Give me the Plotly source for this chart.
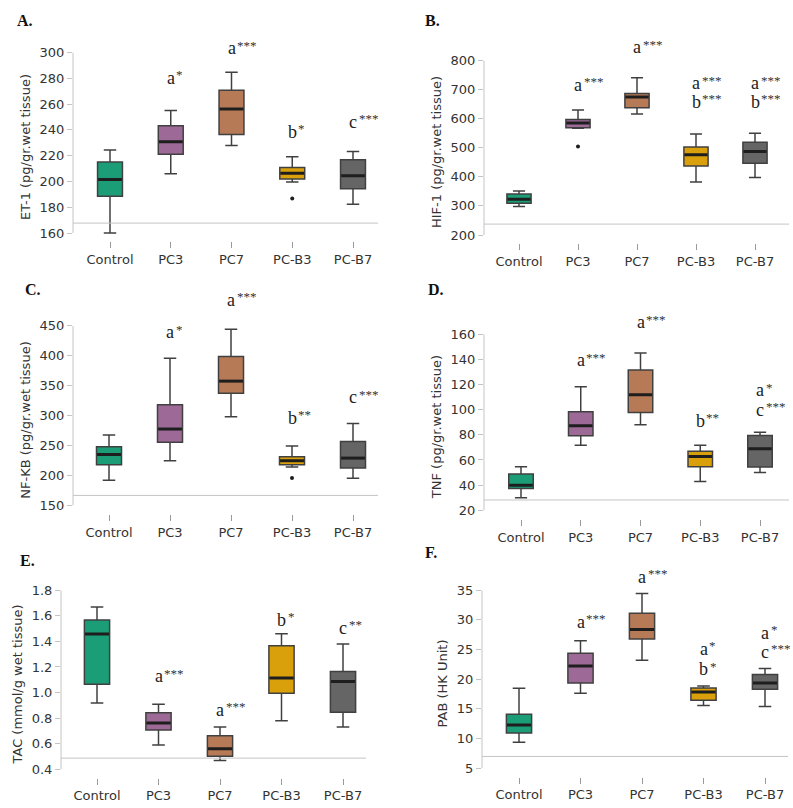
import plotly.graph_objects as go

W, H = 793, 808

groups = ["Control", "PC3", "PC7", "PC-B3", "PC-B7"]
fill_colors = ["#1b9e77", "#9d6a97", "#b77a56", "#d9a00b", "#656565"]

# ---------------- data ----------------
# A. ET-1
et1_lower = [160.0, 206.0, 228.0, 199.5, 182.3]
et1_q1 = [188.5, 221.1, 236.5, 202.0, 194.4]
et1_med = [201.6, 230.9, 256.3, 206.4, 204.4]
et1_q3 = [215.2, 243.2, 270.7, 210.8, 216.9]
et1_upper = [224.5, 255.0, 284.8, 219.2, 223.3]
et1_out = [[], [], [], [186.7], []]

# B. HIF-1
hif_lower = [298, 567, 616, 382, 398]
hif_q1 = [309, 569, 638, 437, 447]
hif_med = [323, 585, 675, 476, 487]
hif_q3 = [341, 597, 687, 503, 519]
hif_upper = [351, 630, 741, 547, 550]
hif_out = [[], [504], [], [], []]

# C. NF-KB
nfkb_lower = [192, 224.6, 298, 214, 195.3]
nfkb_q1 = [218, 255.5, 337.3, 218, 212.4]
nfkb_med = [235, 277.6, 357.7, 224.6, 229]
nfkb_q3 = [247.8, 318, 399, 231.2, 256.6]
nfkb_upper = [267.7, 395.9, 444.5, 249.4, 287]
nfkb_out = [[], [], [], [195.9], []]

# D. TNF
tnf_lower = [30, 71.7, 88, 42.9, 50]
tnf_q1 = [37.3, 79.3, 97.8, 54.7, 54.4]
tnf_med = [40, 87.2, 111.9, 62.8, 68.9]
tnf_q3 = [48.9, 98.3, 131.6, 67, 79.4]
tnf_upper = [54.7, 118.2, 145, 71.7, 82]
tnf_out = [[], [], [], [], []]

# E. TAC
tac_lower = [0.919, 0.591, 0.470, 0.780, 0.731]
tac_q1 = [1.064, 0.707, 0.503, 0.994, 0.847]
tac_med = [1.457, 0.762, 0.560, 1.113, 1.087]
tac_q3 = [1.568, 0.842, 0.663, 1.366, 1.165]
tac_upper = [1.668, 0.909, 0.731, 1.459, 1.379]
tac_out = [[], [], [], [], []]

# F. PAB
pab_lower = [9.35, 17.6, 23.18, 15.54, 15.4]
pab_q1 = [10.9, 19.33, 26.75, 16.43, 18.3]
pab_med = [12.25, 22.23, 28.37, 17.83, 19.34]
pab_q3 = [14.09, 24.35, 31.1, 18.5, 20.8]
pab_upper = [18.44, 26.47, 34.45, 18.83, 21.8]
pab_out = [[], [], [], [], []]

# significance labels: (group index, letter, stars, y in data units)
et1_sig = [(1, "a", "*", 279), (2, "a", "***", 302), (3, "b", "*", 237), (4, "c", "***", 244.6)]
hif_sig = [(1, "a", "***", 710), (2, "a", "***", 839), (3, "a", "***", 715), (3, "b", "***", 652),
           (4, "a", "***", 715), (4, "b", "***", 652)]
nfkb_sig = [(1, "a", "*", 436), (2, "a", "***", 490), (3, "b", "**", 293), (4, "c", "***", 327)]
tnf_sig = [(1, "a", "***", 137.7), (2, "a", "***", 168), (3, "b", "**", 89.4), (4, "a", "*", 114),
           (4, "c", "***", 98.3)]
tac_sig = [(1, "a", "***", 1.111), (2, "a", "***", 0.852), (3, "b", "*", 1.555), (4, "c", "**", 1.49)]
pab_sig = [(1, "a", "***", 29.3), (2, "a", "***", 36.95), (3, "a", "*", 24.8), (3, "b", "*", 21.3),
           (4, "a", "*", 27.5), (4, "c", "***", 24.3)]

# ---------------- panel layout (pixel geometry) ----------------
panels = [
    dict(letter="A.", title="ET-1 (pg/gr.wet tissue)", lo=160, hi=300, dtick=20, fmt="",
         data=(et1_lower, et1_q1, et1_med, et1_q3, et1_upper, et1_out), sig=et1_sig, base=167.7,
         xL=73, xR=378, c0=110, c4=353, lo_px=228, hi_px=46, bot_px=236.5, lab=(15, 14)),
    dict(letter="B.", title="HIF-1 (pg/gr.wet tissue)", lo=200, hi=800, dtick=100, fmt="",
         data=(hif_lower, hif_q1, hif_med, hif_q3, hif_upper, hif_out), sig=hif_sig, base=237.5,
         xL=484, xR=789, c0=519, c4=755, lo_px=230, hi_px=54, bot_px=238.5, lab=(423, 14)),
    dict(letter="C.", title="NF-KB (pg/gr.wet tissue)", lo=150, hi=450, dtick=50, fmt="",
         data=(nfkb_lower, nfkb_q1, nfkb_med, nfkb_q3, nfkb_upper, nfkb_out), sig=nfkb_sig, base=166.6,
         xL=73, xR=378, c0=109, c4=353, lo_px=502.7, hi_px=321.7, bot_px=511.5, lab=(23, 285)),
    dict(letter="D.", title="TNF (pg/gr.wet tissue)", lo=20, hi=160, dtick=20, fmt="",
         data=(tnf_lower, tnf_q1, tnf_med, tnf_q3, tnf_upper, tnf_out), sig=tnf_sig, base=28.2,
         xL=484, xR=789, c0=521, c4=760, lo_px=507.7, hi_px=330, bot_px=516.5, lab=(426, 285)),
    dict(letter="E.", title="TAC (mmol/g wet tissue)", lo=0.4, hi=1.8, dtick=0.2, fmt=".1f",
         data=(tac_lower, tac_q1, tac_med, tac_q3, tac_upper, tac_out), sig=tac_sig, base=0.4876,
         xL=61, xR=366, c0=97, c4=343, lo_px=769, hi_px=588.3, bot_px=777.5, lab=(18, 558)),
    dict(letter="F.", title="PAB (HK Unit)", lo=5, hi=35, dtick=5, fmt="",
         data=(pab_lower, pab_q1, pab_med, pab_q3, pab_upper, pab_out), sig=pab_sig, base=6.96,
         xL=482, xR=788, c0=519, c4=765, lo_px=767.7, hi_px=588.3, bot_px=776.5, lab=(423, 550)),
]

BOX_W = 0.41
LINE_C = "#404040"
AXIS_C = "#c4c4c4"
TICK_FONT = dict(family="DejaVu Sans", size=13, color="#333333")
LETTER_FONT = dict(family="Liberation Serif", size=18, color="#222222")
STAR_FONT = dict(family="Liberation Serif", size=13, color="#333333")
LETTER_W = {"a": 8.0, "b": 9.0, "c": 8.0}

fig = go.Figure()
layout = dict(width=W, height=H, margin=dict(l=0, r=0, t=0, b=0),
              paper_bgcolor="white", plot_bgcolor="white", showlegend=False)
shapes, annotations = [], []

for k, p in enumerate(panels):
    n = "" if k == 0 else str(k + 1)
    xa, ya = "x" + n, "y" + n
    xkey, ykey = "xaxis" + n, "yaxis" + n
    sp = (p["c4"] - p["c0"]) / 4.0
    xr = [-(p["c0"] - p["xL"]) / sp, 4 + (p["xR"] - p["c4"]) / sp]
    per_px = (p["hi"] - p["lo"]) / (p["lo_px"] - p["hi_px"])
    yr = [p["lo"] - (p["bot_px"] - p["lo_px"]) * per_px, p["hi"]]
    layout[xkey] = dict(domain=[p["xL"] / W, p["xR"] / W], range=xr, anchor=ya,
                        tickmode="array", tickvals=list(range(5)), ticktext=groups,
                        ticks="outside", ticklen=6, tickwidth=1, tickcolor="#9a9a9a",
                        showline=False, showgrid=False, zeroline=False, tickfont=TICK_FONT)
    layout[ykey] = dict(domain=[1 - p["bot_px"] / H, 1 - p["hi_px"] / H], range=yr, anchor=xa,
                        tickmode="linear", tick0=p["lo"], dtick=p["dtick"], tickformat=p["fmt"],
                        ticks="outside", ticklen=5, tickwidth=1, tickcolor=AXIS_C,
                        showline=False, showgrid=False, zeroline=False, tickfont=TICK_FONT,
                        title=dict(text=p["title"], font=dict(family="DejaVu Sans", size=13, color="#333333"),
                                   standoff=6))
    # y axis line (only over the tick range) and the grey baseline
    shapes.append(dict(type="line", xref=xa + " domain", yref=ya, x0=0, x1=0, y0=p["lo"], y1=p["hi"],
                       line=dict(color=AXIS_C, width=1)))
    shapes.append(dict(type="line", xref=xa + " domain", yref=ya, x0=0, x1=1, y0=p["base"], y1=p["base"],
                       line=dict(color=AXIS_C, width=1)))

    lower, q1, med, q3, upper, outs = p["data"]
    for i in range(5):
        fig.add_trace(go.Box(x=[i], q1=[q1[i]], median=[med[i]], q3=[q3[i]],
                             lowerfence=[lower[i]], upperfence=[upper[i]],
                             width=BOX_W, whiskerwidth=0.5, fillcolor=fill_colors[i],
                             line=dict(color=LINE_C, width=1.5), boxpoints=False,
                             xaxis=xa, yaxis=ya, hoverinfo="skip"))
        fig.add_trace(go.Scatter(x=[i - BOX_W / 2 + 0.01, i + BOX_W / 2 - 0.01], y=[med[i], med[i]],
                                 mode="lines", line=dict(color="#1e1e1e", width=3),
                                 xaxis=xa, yaxis=ya, hoverinfo="skip"))
        if outs[i]:
            fig.add_trace(go.Scatter(x=[i] * len(outs[i]), y=outs[i], mode="markers",
                                     marker=dict(color="#1e1e1e", size=4),
                                     xaxis=xa, yaxis=ya, hoverinfo="skip"))
    # significance labels (placed in paper coords so they may sit above the axis range)
    for gi, letter, stars, yv in p["sig"]:
        px_x = p["c0"] + gi * sp
        px_y = p["lo_px"] - (yv - p["lo"]) / per_px
        lw = LETTER_W[letter]
        annotations.append(dict(x=px_x / W, y=1 - px_y / H, xref="paper", yref="paper", showarrow=False,
                                text=letter, xanchor="center", yanchor="middle", yshift=2,
                                font=LETTER_FONT))
        annotations.append(dict(x=(px_x + lw / 2 - 0.5) / W, y=1 - px_y / H, xref="paper", yref="paper",
                                showarrow=False, text=stars, xanchor="left", yanchor="middle", yshift=5,
                                font=STAR_FONT))
    annotations.append(dict(x=p["lab"][0] / W, y=1 - p["lab"][1] / H, xref="paper", yref="paper",
                            text="<b>" + p["letter"] + "</b>", showarrow=False,
                            xanchor="left", yanchor="middle",
                            font=dict(family="Liberation Serif", size=16, color="#111111")))

layout["shapes"] = shapes
layout["annotations"] = annotations
fig.update_layout(**layout)
fig.write_html("out.html", config={"displayModeBar": False},
               post_script="document.body.style.margin='0px';")
